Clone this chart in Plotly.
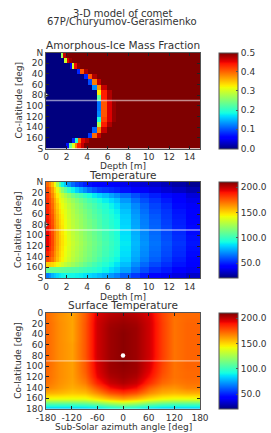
import plotly.graph_objects as go

SUPTITLE = ["3-D model of comet", "67P/Churyumov-Gerasimenko"]
TITLES = ["Amorphous-Ice Mass Fraction", "Temperature", "Surface Temperature"]
LAT_TICKS = [0, 20, 40, 60, 80, 100, 120, 140, 160, 180]
LAT_LABELS = ["N", "20", "40", "60", "80", "100", "120", "140", "160", "S"]
LAT3_LABELS = ["0", "20", "40", "60", "80", "100", "120", "140", "160", "180"]
DEPTH_TICKS = [0, 2, 4, 6, 8, 10, 12, 14]
AZ_TICKS = [-180, -120, -60, 0, 60, 120, 180]
AZ_LABELS = ["-180", "-120", "-60", "0", "60", "120", "180"]

LAT_EDGES = [0, 10, 20, 30, 40, 50, 60, 70, 80, 90, 100, 110, 120, 130, 140, 150, 160, 170, 180]

# Amorphous ice: per latitude band, the depth edges of the transition and the values inside it
FRONT_EDGES = [
    [1.5, 1.7, 1.9],
    [1.8, 2.0, 2.2, 2.5],
    [2.3, 2.5, 2.7, 3.0, 3.3],
    [3.0, 3.3, 3.7, 4.1],
    [3.7, 4.1, 4.5, 5.0],
    [4.1, 4.5, 5.0, 5.4],
    [4.5, 5.0, 5.4, 5.9],
    [5.0, 5.4, 5.9, 6.4],
    [5.0, 5.4, 5.9, 6.4],
    [5.0, 5.4, 5.9, 6.4, 6.8],
    [5.0, 5.4, 5.9, 6.4, 6.8],
    [5.0, 5.4, 5.9, 6.4, 6.8],
    [5.0, 5.4, 5.9, 6.4, 6.8],
    [5.0, 5.4, 5.9, 6.4],
    [4.5, 5.0, 5.4, 5.9],
    [4.1, 4.5, 5.0, 5.4],
    [2.5, 2.8, 3.1, 3.4, 3.8, 4.2],
    [1.9, 2.2, 2.5, 2.8, 3.0, 3.4, 3.7],
]
FRONT_VALUES = [
    [0.27, 0.47],
    [0.30, 0.46, 0.49],
    [0.06, 0.30, 0.45, 0.49],
    [0.08, 0.41, 0.48],
    [0.08, 0.41, 0.48],
    [0.10, 0.39, 0.47],
    [0.13, 0.38, 0.47],
    [0.33, 0.44, 0.48],
    [0.23, 0.44, 0.48],
    [0.12, 0.41, 0.46, 0.49],
    [0.12, 0.41, 0.46, 0.49],
    [0.13, 0.41, 0.46, 0.49],
    [0.19, 0.42, 0.46, 0.49],
    [0.28, 0.44, 0.48],
    [0.11, 0.39, 0.47],
    [0.09, 0.40, 0.47],
    [0.08, 0.20, 0.40, 0.46, 0.48],
    [0.07, 0.24, 0.31, 0.39, 0.44, 0.47],
]

DEPTH_EDGES = [0, .25, .5, .75, 1, 1.25, 1.5, 1.75, 2, 2.4, 2.8, 3.2, 3.6, 4, 4.5, 5, 5.5,
               6.1, 6.6, 7.2, 8.25, 9.15, 10.06, 11.17, 12.3, 13.6, 15]
TEMPERATURE = [
    [172,165,155,142,125,105,90,82,72,64,58,54,50,47,45,44,43,42,41,39,37,35,33,30,27,24],
    [178,172,162,150,140,130,118,108,98,90,83,77,71,65,60,56,54,52,50,47,44,41,38,35,32,29],
    [182,176,166,155,146,139,133,127,120,113,107,103,98,93,88,84,80,75,71,65,59,54,50,46,41,36],
    [184,178,170,159,150,143,138,133,127,122,117,112,108,103,99,94,89,85,81,73,65,59,54,49,44,39],
    [186,180,172,161,153,146,141,137,131,126,121,117,112,108,104,99,95,90,86,78,70,63,57,52,46,41],
    [187,181,174,163,155,148,143,139,133,128,123,119,115,111,106,102,97,93,89,81,72,65,59,54,48,43],
    [189,183,176,165,157,150,145,140,134,129,125,121,117,112,108,104,99,95,91,83,74,67,61,55,49,44],
    [190,184,177,166,158,151,146,141,135,130,126,122,118,114,110,105,100,96,92,84,75,68,62,56,50,45],
    [191,185,178,167,159,152,147,142,136,131,127,123,119,115,111,106,101,97,93,85,76,69,63,57,51,46],
    [192,186,178,168,160,152,147,142,136,131,127,123,119,115,111,107,102,98,94,86,77,70,64,58,52,46],
    [193,187,179,168,160,153,148,143,137,132,128,124,120,116,112,108,103,99,95,87,78,71,65,59,53,47],
    [193,187,179,168,160,153,148,143,138,133,129,125,121,117,113,109,104,100,96,88,79,72,66,60,54,48],
    [191,185,178,167,159,152,147,142,137,132,128,124,120,116,112,108,103,99,95,87,78,71,65,59,53,47],
    [186,181,175,165,157,151,146,141,136,131,127,123,119,115,111,107,102,98,94,86,77,70,64,58,52,46],
    [180,176,171,163,155,149,144,139,134,129,125,121,117,113,109,104,99,95,91,84,75,68,62,56,50,45],
    [152,152,150,147,143,139,135,131,127,123,119,115,111,107,103,99,95,91,87,80,71,64,58,53,48,43],
    [110,110,110,110,110,110,109,108,107,106,105,103,101,99,97,94,90,86,82,75,66,59,53,49,44,40],
    [68,72,78,82,85,88,90,91,91,91,90,89,87,85,83,80,77,73,69,62,55,49,44,40,37,33],
]

AZIMUTH = [-180, -150, -120, -90, -60, -30, 0, 30, 60, 90, 120, 150, 180]
COLAT = [0, 10, 20, 30, 40, 50, 60, 70, 80, 90, 100, 110, 120, 130, 140, 150, 160, 170, 180]
SURFACE = [
    [172,165,160,175,195,200,202,200,195,180,172,172,172],
    [172,164,160,175,196,202,204,202,196,180,170,172,172],
    [173,165,160,176,197,204,206,204,197,181,170,173,173],
    [173,165,160,176,197,205,207,205,197,181,170,173,173],
    [173,165,160,176,197,205,208,205,197,181,170,173,173],
    [173,165,160,176,197,205,208,205,197,181,170,173,173],
    [173,165,161,176,197,205,208,205,197,181,170,173,173],
    [173,165,161,176,197,205,208,205,197,181,170,173,173],
    [173,165,161,176,197,205,208,205,197,181,170,173,173],
    [173,165,161,175,196,205,208,205,196,180,170,173,173],
    [173,165,161,175,195,205,207,205,195,179,170,173,173],
    [172,165,161,174,194,204,206,204,193,178,170,172,172],
    [172,165,161,172,192,202,205,202,190,176,170,172,172],
    [170,164,160,168,186,198,202,198,184,172,168,170,170],
    [167,162,158,162,176,190,195,190,174,165,163,167,167],
    [158,156,153,155,165,177,182,177,165,158,156,158,158],
    [140,140,140,140,147,155,160,155,147,142,140,140,140],
    [105,105,105,107,112,120,125,120,112,107,105,105,105],
    [78,78,78,78,80,85,88,85,80,78,78,78,78],
]
SUN_LON = [0]
SUN_LAT = [80]

JET = [[0, "rgb(0,0,127)"], [.11, "rgb(0,0,255)"], [.125, "rgb(0,0,255)"], [.34, "rgb(0,219,255)"],
       [.35, "rgb(0,230,247)"], [.375, "rgb(20,255,226)"], [.64, "rgb(238,255,8)"], [.65, "rgb(247,245,0)"],
       [.66, "rgb(255,236,0)"], [.89, "rgb(255,19,0)"], [.91, "rgb(232,0,0)"], [1, "rgb(127,0,0)"]]

W, H = 271, 433
FONT = "DejaVu Sans"
TXT = "#333333"
FRAME = "#555555"
BOXES = [(52.5, 148.5), (182, 278), (312.7, 409)]
XL, XR = 46, 200

# amorphous-ice grid on 0.1 m columns
cols = [i * 0.1 for i in range(151)]
ice = []
for e, v in zip(FRONT_EDGES, FRONT_VALUES):
    row = []
    for c in cols[:-1]:
        m = c + 0.05
        if m < e[0]:
            row.append(0.0)
        elif m >= e[-1]:
            row.append(0.5)
        else:
            k = [j for j in range(len(v)) if e[j] <= m < e[j + 1]][0]
            row.append(v[k])
    ice.append(row)


def ydom(b):
    return [1 - b[1] / H, 1 - b[0] / H]


def cbar(b, vals, fmt):
    return dict(x=219 / W, xanchor="left", xref="paper", y=1 - b[1] / H, yanchor="bottom", yref="paper",
                len=(b[1] - b[0]) / H, lenmode="fraction", thickness=19, thicknessmode="pixels",
                tickvals=vals, tickformat=fmt, ticks="inside", ticklen=2, tickcolor=FRAME,
                outlinecolor=FRAME, outlinewidth=1, xpad=0, ypad=0,
                tickfont=dict(family=FONT, size=9, color=TXT))


fig = go.Figure()
fig.add_trace(go.Heatmap(x=cols, y=LAT_EDGES, z=ice, colorscale=JET, zmin=0, zmax=0.5,
                         colorbar=cbar(BOXES[0], [0, .1, .2, .3, .4, .5], ".1f"), xaxis="x", yaxis="y"))
fig.add_trace(go.Heatmap(x=DEPTH_EDGES, y=LAT_EDGES, z=TEMPERATURE, colorscale=JET, zmin=21, zmax=210,
                         colorbar=cbar(BOXES[1], [50, 100, 150, 200], ".1f"), xaxis="x2", yaxis="y2"))
fig.add_trace(go.Heatmap(x=AZIMUTH, y=COLAT, z=SURFACE, zsmooth="best", colorscale=JET, zmin=21, zmax=210,
                         colorbar=cbar(BOXES[2], [50, 100, 150, 200], ".1f"), xaxis="x3", yaxis="y3"))

for xa, ya, xr in (("x", "y", [0, 15]), ("x2", "y2", [0, 15]), ("x3", "y3", [-180, 180])):
    fig.add_trace(go.Scatter(x=xr, y=[90, 90], mode="lines", line=dict(color="rgba(255,255,255,0.55)", width=1.3),
                             xaxis=xa, yaxis=ya, showlegend=False, hoverinfo="skip"))
for xa, ya in (("x", "y"), ("x2", "y2")):
    fig.add_trace(go.Scatter(x=[0], y=SUN_LAT, mode="markers", cliponaxis=False,
                             marker=dict(symbol="triangle-right", size=5, color="white", line=dict(color="#555", width=0.7)),
                             xaxis=xa, yaxis=ya, showlegend=False, hoverinfo="skip"))
fig.add_trace(go.Scatter(x=SUN_LON, y=SUN_LAT, mode="markers", marker=dict(size=4.5, color="white"),
                         xaxis="x3", yaxis="y3", showlegend=False, hoverinfo="skip"))

common = dict(showgrid=False, zeroline=False, showline=True, linecolor=FRAME, linewidth=1, mirror="ticks",
              ticks="inside", ticklen=3, tickcolor="#222222", tickangle=0, automargin=False,
              tickfont=dict(family=FONT, size=9, color=TXT))
xdom = [XL / W, XR / W]
fig.update_layout(
    width=W, height=H, margin=dict(l=0, r=0, t=0, b=0, autoexpand=False), paper_bgcolor="white", plot_bgcolor="white",
    showlegend=False,
    xaxis=dict(domain=xdom, anchor="y", range=[0, 15], tickvals=DEPTH_TICKS, **common),
    yaxis=dict(domain=ydom(BOXES[0]), anchor="x", range=[180, 0], tickvals=LAT_TICKS, ticktext=LAT_LABELS, **common),
    xaxis2=dict(domain=xdom, anchor="y2", range=[0, 15], tickvals=DEPTH_TICKS, **common),
    yaxis2=dict(domain=ydom(BOXES[1]), anchor="x2", range=[180, 0], tickvals=LAT_TICKS, ticktext=LAT_LABELS, **common),
    xaxis3=dict(domain=xdom, anchor="y3", range=[-180, 180], tickvals=AZ_TICKS, ticktext=AZ_LABELS, **common),
    yaxis3=dict(domain=ydom(BOXES[2]), anchor="x3", range=[180, 0], tickvals=LAT_TICKS, ticktext=LAT3_LABELS, **common),
)


def note(text, px, py, size=9, angle=0):
    fig.add_annotation(text=text, x=px / W, y=1 - py / H, xref="paper", yref="paper", showarrow=False,
                       xanchor="center", yanchor="middle", textangle=angle, font=dict(family=FONT, size=size, color=TXT))


note(SUPTITLE[0], 122, 13, 10)
note(SUPTITLE[1], 122, 22, 10)
for t, y in zip(TITLES, (45, 175, 305)):
    note(t, 123, y, 10.5)
note("Depth [m]", 123, 166)
note("Depth [m]", 123, 296.5)
note("Sub-Solar azimuth angle [deg]", 123, 427)
for b in BOXES:
    note("Co-latitude [deg]", 18, (b[0] + b[1]) / 2, 9, -90)

fig.write_html("out.html", config={"displayModeBar": False},
               post_script="document.body.style.margin='0';document.body.style.overflow='hidden';")
